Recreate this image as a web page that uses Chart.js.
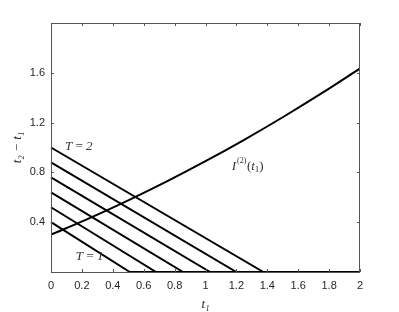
<!DOCTYPE html>
<html>
<head>
<meta charset="utf-8">
<script src="https://cdn.jsdelivr.net/npm/chart.js@4.4.1/dist/chart.umd.min.js"></script>
<style>
  html, body { margin: 0; padding: 0; background: #fff; }
  #wrap { width: 399px; height: 312px; }
</style>
</head>
<body>
<div id="wrap"><canvas id="c" width="399" height="312"></canvas></div>
<script>
// straight lines t2 - t1 for T = 1, 1.2, ..., 2 (value at t1 = 0, and where they reach 0)
var lineStarts = [0.40, 0.52, 0.64, 0.76, 0.88, 1.00];
var lineEnds = [0.51, 0.68, 0.855, 1.03, 1.20, 1.375];

// the I^(2)(t1) curve
var curveT1 = [0, 0.25, 0.5, 0.75, 1.0, 1.25, 1.5, 1.75, 2.0];
var curveVals = [0.30, 0.433, 0.576, 0.728, 0.89, 1.062, 1.243, 1.434, 1.635];

var xTicks = [0, 0.2, 0.4, 0.6, 0.8, 1, 1.2, 1.4, 1.6, 1.8, 2];
var yTicks = [0.4, 0.8, 1.2, 1.6];

var datasets = [];
for (var i = 0; i < lineStarts.length; i++) {
    datasets.push({
        data: [{x: 0, y: lineStarts[i]}, {x: lineEnds[i], y: 0}, {x: 2, y: 0}],
        borderColor: '#000',
        borderWidth: 2,
        pointRadius: 0,
        clip: false
    });
}
datasets.push({
    data: curveT1.map(function(t, k) { return {x: t, y: curveVals[k]}; }),
    borderColor: '#000',
    borderWidth: 2,
    pointRadius: 0,
    tension: 0.3
});

// box with inward ticks, plus the curve labels
var boxPlugin = {
    id: 'box',
    afterDatasetsDraw: function(chart) {
        var ctx = chart.ctx;
        var a = chart.chartArea;
        var xs = chart.scales.x, ys = chart.scales.y;
        ctx.save();
        ctx.strokeStyle = '#555';
        ctx.lineWidth = 1;
        ctx.strokeRect(a.left + 0.5, a.top + 0.5, a.right - a.left - 1, a.bottom - a.top);
        ctx.beginPath();
        xTicks.forEach(function(v) {
            var px = Math.round(xs.getPixelForValue(v)) + 0.5;
            ctx.moveTo(px, a.bottom); ctx.lineTo(px, a.bottom - 3);
            ctx.moveTo(px, a.top); ctx.lineTo(px, a.top + 3);
        });
        yTicks.forEach(function(v) {
            var py = Math.round(ys.getPixelForValue(v)) + 0.5;
            ctx.moveTo(a.left, py); ctx.lineTo(a.left + 3, py);
            ctx.moveTo(a.right, py); ctx.lineTo(a.right - 3, py);
        });
        ctx.stroke();

        ctx.fillStyle = '#333';
        ctx.textBaseline = 'middle';
        ctx.textAlign = 'left';
        ctx.font = 'italic 13px "Liberation Serif"';
        ctx.fillText('T\u2009=\u20092', xs.getPixelForValue(0.09), ys.getPixelForValue(1.01));
        ctx.fillText('T\u2009=\u20091', xs.getPixelForValue(0.16), ys.getPixelForValue(0.12));

        // I^(2)(t1)
        var px = xs.getPixelForValue(1.17), py = ys.getPixelForValue(0.85);
        ctx.font = 'italic 13px "Liberation Serif"';
        ctx.fillText('I', px, py);
        px += ctx.measureText('I').width + 1;
        ctx.font = '8px "Liberation Serif"';
        ctx.fillText('(2)', px, py - 5);
        px += ctx.measureText('(2)').width + 0.5;
        ctx.font = '13px "Liberation Serif"';
        ctx.fillText('(', px, py);
        px += ctx.measureText('(').width;
        ctx.font = 'italic 13px "Liberation Serif"';
        ctx.fillText('t', px, py);
        px += ctx.measureText('t').width;
        ctx.font = '9px "Liberation Serif"';
        ctx.fillText('1', px, py + 3);
        px += ctx.measureText('1').width;
        ctx.font = '13px "Liberation Serif"';
        ctx.fillText(')', px, py);
        ctx.restore();
    }
};

var chart = new Chart(document.getElementById('c'), {
    type: 'line',
    data: { datasets: datasets },
    options: {
        responsive: false,
        animation: false,
        layout: { padding: { top: 23, right: 39, left: 10, bottom: 0 } },
        plugins: { legend: { display: false }, tooltip: { enabled: false } },
        scales: {
            x: {
                type: 'linear',
                min: 0, max: 2,
                afterBuildTicks: function(s) { s.ticks = xTicks.map(function(v) { return {value: v}; }); },
                afterFit: function(s) { s.height = 40; },
                grid: { display: false, drawTicks: false },
                border: { display: false },
                ticks: {
                    color: '#262626',
                    font: { family: 'Liberation Sans', size: 11 },
                    padding: 7,
                    maxRotation: 0,
                    callback: function(v) { return String(v); }
                },
                title: {
                    display: true,
                    text: 't₁',
                    color: '#262626',
                    font: { family: 'Liberation Serif', style: 'italic', size: 13 },
                    padding: { top: 0, bottom: 0 }
                }
            },
            y: {
                min: 0, max: 2,
                afterBuildTicks: function(s) { s.ticks = yTicks.map(function(v) { return {value: v}; }); },
                afterFit: function(s) { s.width = 41; },
                grid: { display: false, drawTicks: false },
                border: { display: false },
                ticks: {
                    color: '#262626',
                    font: { family: 'Liberation Sans', size: 11 },
                    padding: 6,
                    callback: function(v) { return String(v); }
                },
                title: {
                    display: true,
                    text: 't₂ − t₁',
                    color: '#262626',
                    font: { family: 'Liberation Serif', style: 'italic', size: 13 },
                    padding: { top: 0, bottom: 0 }
                }
            }
        }
    },
    plugins: [boxPlugin]
});
</script>
</body>
</html>
